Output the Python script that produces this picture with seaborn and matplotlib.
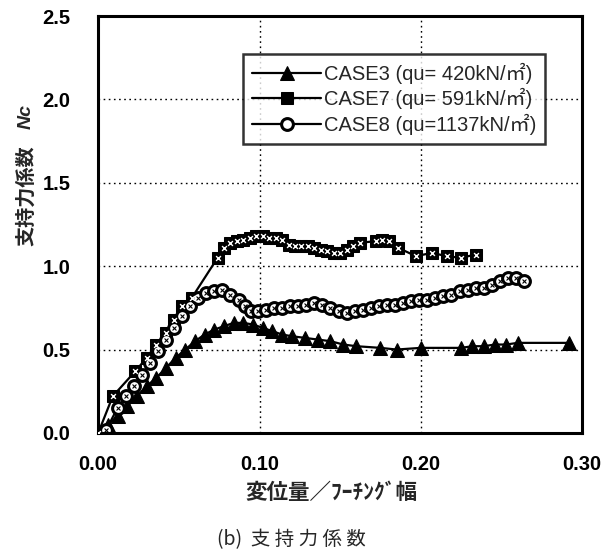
import numpy as np
import pandas as pd
import matplotlib
matplotlib.use("Agg")
import matplotlib.pyplot as plt
import seaborn as sns

# Displacement / footing width vs. bearing capacity factor Nc
case3_x = [0.0, 0.006, 0.012, 0.018, 0.024, 0.030, 0.036, 0.042, 0.048, 0.054, 0.060,
           0.066, 0.072, 0.078, 0.084, 0.090, 0.096, 0.102, 0.108, 0.114, 0.120,
           0.128, 0.136, 0.144, 0.152, 0.160, 0.175, 0.185, 0.200, 0.225, 0.232,
           0.239, 0.246, 0.253, 0.260, 0.292]
case3_y = [0.0, 0.05, 0.10, 0.16, 0.22, 0.28, 0.33, 0.39, 0.45, 0.50, 0.55,
           0.59, 0.62, 0.64, 0.66, 0.66, 0.65, 0.63, 0.61, 0.59, 0.58,
           0.57, 0.56, 0.55, 0.53, 0.52, 0.51, 0.50, 0.51, 0.51, 0.52,
           0.52, 0.53, 0.53, 0.54, 0.54]

case7_x = [0.0, 0.009, 0.023, 0.030, 0.036, 0.042, 0.047, 0.052, 0.058, 0.074,
           0.078, 0.082, 0.086, 0.090, 0.094, 0.098, 0.102, 0.106, 0.110, 0.114,
           0.118, 0.122, 0.126, 0.130, 0.134, 0.138, 0.142, 0.146, 0.150, 0.154,
           0.158, 0.162, 0.172, 0.176, 0.180, 0.186, 0.197, 0.207, 0.216, 0.225, 0.234]
case7_y = [0.0, 0.22, 0.37, 0.45, 0.53, 0.60, 0.68, 0.76, 0.81, 1.05,
           1.11, 1.14, 1.15, 1.16, 1.17, 1.18, 1.18, 1.17, 1.17, 1.16,
           1.13, 1.12, 1.12, 1.12, 1.11, 1.10, 1.09, 1.08, 1.08, 1.10,
           1.12, 1.14, 1.15, 1.16, 1.15, 1.11, 1.06, 1.08, 1.06, 1.05, 1.07]

case8_x = [0.005, 0.012, 0.017, 0.022, 0.027, 0.032, 0.037, 0.042, 0.047, 0.052,
           0.057, 0.062, 0.067, 0.072, 0.077, 0.082, 0.087, 0.091, 0.095, 0.099,
           0.104, 0.109, 0.114, 0.119, 0.124, 0.129, 0.134, 0.139, 0.144, 0.149,
           0.154, 0.159, 0.164, 0.169, 0.174, 0.179, 0.184, 0.189, 0.194, 0.199,
           0.204, 0.209, 0.214, 0.219, 0.224, 0.229, 0.234, 0.239, 0.244, 0.249,
           0.254, 0.259, 0.264]
case8_y = [0.02, 0.15, 0.22, 0.28, 0.35, 0.42, 0.49, 0.56, 0.63, 0.70,
           0.76, 0.81, 0.84, 0.85, 0.86, 0.83, 0.80, 0.76, 0.73, 0.73,
           0.74, 0.75, 0.75, 0.76, 0.76, 0.77, 0.78, 0.77, 0.75, 0.73,
           0.72, 0.73, 0.74, 0.75, 0.76, 0.77, 0.77, 0.78, 0.79, 0.80,
           0.80, 0.81, 0.82, 0.83, 0.85, 0.86, 0.87, 0.87, 0.89, 0.91,
           0.93, 0.93, 0.91]

labels = ["CASE3 (qu= 420kN/㎡)", "CASE7 (qu= 591kN/㎡)", "CASE8 (qu=1137kN/㎡)"]
x_ticks = [0.00, 0.10, 0.20, 0.30]
x_ticklabels = ["0.00", "0.10", "0.20", "0.30"]
y_ticks = [0.0, 0.5, 1.0, 1.5, 2.0, 2.5]
y_ticklabels = ["0.0", "0.5", "1.0", "1.5", "2.0", "2.5"]

sns.set_theme(style="white")
plt.rcParams["font.family"] = ["Liberation Sans", "Noto Sans CJK JP"]

fig = plt.figure(figsize=(6.14, 5.55), dpi=100)
ax = fig.add_axes([0.16, 0.22, 0.788, 0.751])

common = dict(ax=ax, color="black", linewidth=1.6, estimator=None, sort=False)

sns.lineplot(x=case3_x, y=case3_y, marker="^", markersize=10,
             markerfacecolor="black", markeredgecolor="black",
             label=labels[0], **common)
sns.lineplot(x=case7_x, y=case7_y, marker="s", markersize=9,
             markerfacecolor="black", markeredgecolor="black",
             label=labels[1], **common)
sns.lineplot(x=case8_x, y=case8_y, marker="o", markersize=8.5,
             markerfacecolor="white", markeredgecolor="black", markeredgewidth=2.2,
             label=labels[2], **common)

# dotted texture inside the square and circle markers
sns.scatterplot(x=case7_x, y=case7_y, ax=ax, marker="x", s=12, color="white",
                linewidth=1.0, legend=False, zorder=5)
sns.scatterplot(x=case8_x, y=case8_y, ax=ax, marker="x", s=8, color="black",
                linewidth=0.8, legend=False, zorder=5)

ax.set_xlim(0, 0.30)
ax.set_ylim(0, 2.5)
ax.set_xticks(x_ticks)
ax.set_xticklabels(x_ticklabels, fontsize=14.5, fontweight="bold")
ax.set_yticks(y_ticks)
ax.set_yticklabels(y_ticklabels, fontsize=14.5, fontweight="bold")
ax.set_xticks([0.05, 0.15, 0.25], minor=True)
ax.tick_params(axis="both", which="both", direction="in", length=5, width=1,
               colors="black")
ax.tick_params(axis="x", which="major", length=0, pad=16)
ax.tick_params(axis="y", which="major", length=0, pad=20)

ax.grid(True, which="major", linestyle=(0, (1.2, 2.5)), color="black", linewidth=1.0)
for s in ax.spines.values():
    s.set_visible(True)
    s.set_color("black")
    s.set_linewidth(2.2)

ax.set_xlabel("")
ax.set_ylabel("")

leg = ax.legend(loc="upper left", bbox_to_anchor=(0.30, 0.91), frameon=True,
                fancybox=False, shadow=False, fontsize=14.5, handlelength=3.4,
                handletextpad=0.15, labelspacing=0.22, borderpad=0.45,
                borderaxespad=0)
leg.get_frame().set_edgecolor("black")
leg.get_frame().set_linewidth(1.8)
leg.get_frame().set_facecolor("white")

# axis titles
fig.text(0.042, 0.647, "支持力係数", rotation=90, ha="center", va="center",
         fontsize=14.5, fontweight="bold", family=["Noto Sans CJK JP"])
fig.text(0.042, 0.79, "Nc", rotation=90, ha="center", va="center",
         fontsize=14, fontweight="bold", style="italic", family=["Liberation Sans"])
fig.text(0.54, 0.113, "変位量／ﾌｰﾁﾝｸﾞ幅", ha="center", va="center",
         fontsize=15.5, fontweight="bold", family=["Noto Sans CJK JP"])
fig.text(0.475, 0.027, "(b)  支 持 力 係 数", ha="center", va="center",
         fontsize=14, family=["Noto Sans CJK JP"])

fig.savefig("out.png", dpi=100)
